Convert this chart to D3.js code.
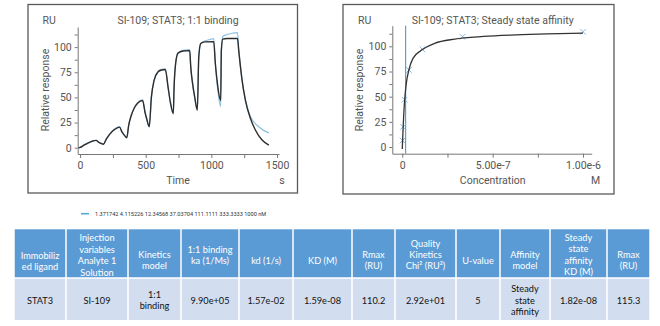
<!DOCTYPE html>
<html><head><meta charset="utf-8">
<script src="https://cdn.jsdelivr.net/npm/d3@7"></script>
<style>body{margin:0;background:#fff} svg{display:block}</style>
</head><body><svg id="c" width="660" height="326"></svg>
<script>
// ---------- DATA ----------
// Sensorgram: fitted curve (black)
const fitTime = [-12, 0, 30, 60, 90, 122, 140, 160, 178, 200, 230, 260, 300, 320, 340, 356, 370, 390, 414, 440, 476, 495, 510, 527, 543, 564, 594, 620, 649, 670, 688, 710, 716, 729, 746, 784, 835, 843, 858, 873, 893, 904, 919, 950, 1018, 1030, 1045, 1071, 1076, 1087, 1120, 1199, 1208, 1234, 1259, 1297, 1335, 1386, 1438];
const fitResp = [0, 0.3, 2.5, 4.6, 6.3, 7.3, 5.6, 4.3, 3.5, 8.5, 14, 17.8, 20.5, 15.5, 12, 10, 22, 32, 39.7, 44.5, 47, 35, 27.5, 21, 50, 67, 75.4, 77.3, 77.8, 60.5, 45, 34, 60, 85, 94, 96.2, 96.5, 80.4, 63, 50.6, 37.5, 90.3, 103.6, 105.2, 105.5, 84, 65, 47, 97, 108, 108.5, 108.6, 97, 67, 47.3, 29.2, 17.6, 7.6, 2.5];
// Sensorgram: measured response (blue)
const dataTime = [-12, 0, 30, 60, 90, 122, 140, 160, 178, 200, 230, 260, 300, 320, 340, 356, 370, 390, 414, 440, 476, 495, 510, 527, 543, 564, 594, 620, 649, 670, 688, 710, 716, 729, 746, 784, 835, 843, 858, 873, 893, 904, 919, 950, 985, 1018, 1030, 1045, 1071, 1076, 1087, 1120, 1160, 1199, 1208, 1234, 1259, 1285, 1310, 1361, 1400, 1438];
const dataResp = [0, 0.3, 2.8, 5, 6.5, 7.4, 5.6, 4.3, 3.4, 8.8, 14.5, 18.5, 21, 15.5, 11.8, 9.6, 22.5, 32.5, 40, 45, 47.5, 35, 27, 20.5, 50, 67.5, 76, 78, 78.5, 60, 44.5, 33.5, 60, 85, 94.5, 96.8, 97.5, 80, 62, 49.5, 37, 90, 103.5, 106, 107.5, 108.5, 84, 62, 41, 97, 110.5, 112.5, 113.8, 114.5, 98, 67, 47.5, 35, 28, 20.8, 17, 14.8];

// Steady state affinity
const concNM = [1.371742, 4.115226, 12.34568, 37.03704, 111.1111, 333.3333, 1000];
const ssResp = [6.5, 20, 47, 76.5, 97, 109.5, 114.5];
const ssCurveNM = [0, 1.4, 4, 8, 13, 22, 37, 59, 105, 179, 290, 450, 600, 800, 1000];
const ssCurveResp = [-2, 5, 16, 32, 46.5, 63, 77, 88, 96, 103, 107.2, 109.8, 111.2, 112.3, 113.2];
const kdNM = 18.2;

// Ticks
const sensoTicks = [0, 250, 500, 750, 1000, 1250, 1500];
const sensoTickLabels = ["0", "", "500", "", "1000", "", "1500"];
const respTicks = [0, 12.5, 25, 37.5, 50, 62.5, 75, 87.5, 100, 112.5];
const respTickLabels = ["0", "", "25", "", "50", "", "75", "", "100", ""];
const concTicks = [0, 2.5e-7, 5e-7, 7.5e-7, 1e-6];
const concTickLabels = ["0", "", "5.00e-7", "", "1.00e-6"];

const legendText = "1.371742 4.115226 12.34568 37.03704 111.1111 333.3333 1000 nM";

// Table
const tableHeaders = [
  ["Immobiliz", "ed ligand"],
  ["Injection", "variables", "Analyte 1", "Solution"],
  ["Kinetics", "model"],
  ["1:1 binding", "ka (1/Ms)"],
  ["kd (1/s)"],
  ["KD (M)"],
  ["Rmax", "(RU)"],
  ["Quality", "Kinetics", "Chi² (RU²)"],
  ["U-value"],
  ["Affinity", "model"],
  ["Steady", "state", "affinity", "KD (M)"],
  ["Rmax", "(RU)"]
];
const tableRow = [
  ["STAT3"], ["SI-109"], ["1:1", "binding"], ["9.90e+05"], ["1.57e-02"], ["1.59e-08"],
  ["110.2"], ["2.92e+01"], ["5"], ["Steady", "state", "affinity"], ["1.82e-08"], ["115.3"]
];

// ---------- DRAW ----------
const svg = d3.select("#c");
const FONT = "Roboto, 'Liberation Sans', Arial, sans-serif";
const TXT = "#555";

function panel(x0, y0, x1, y1) {
  svg.append("rect").attr("x", x0).attr("y", y0).attr("width", x1 - x0).attr("height", y1 - y0)
    .attr("fill", "#fff").attr("stroke", "#5a5a5a").attr("stroke-width", 1.3);
}
panel(28, 4.5, 297.5, 193);
panel(343, 4.5, 614, 194);

function styleAxis(g) {
  g.select(".domain").attr("stroke", "#777").attr("stroke-width", 1);
  g.selectAll(".tick line").attr("stroke", "#777");
  g.selectAll(".tick text").attr("fill", TXT).attr("font-size", 10.5).attr("font-family", FONT);
}

// ---- Left: sensorgram ----
const xL = d3.scaleLinear().domain([-18, 1515]).range([77.7, 279]);
const yL = d3.scaleLinear().domain([-6.25, 120]).range([154, 27]);

const gLy = svg.append("g").attr("transform", "translate(77.7,0)")
  .call(d3.axisLeft(yL).tickValues(respTicks).tickSize(3).tickSizeOuter(0).tickPadding(3)
    .tickFormat((d, i) => respTickLabels[i]));
styleAxis(gLy);
const gLx = svg.append("g").attr("transform", "translate(0,154)")
  .call(d3.axisBottom(xL).tickValues(sensoTicks).tickSize(4).tickSizeOuter(0).tickPadding(4)
    .tickFormat((d, i) => sensoTickLabels[i]));
styleAxis(gLx);

const lineL = d3.line().curve(d3.curveMonotoneX);
svg.append("path").attr("d", lineL(dataTime.map((t, i) => [xL(t), yL(dataResp[i])])))
  .attr("fill", "none").attr("stroke", "#8dbfe2").attr("stroke-width", 1.2);
svg.append("path").attr("d", lineL(fitTime.map((t, i) => [xL(t), yL(fitResp[i])])))
  .attr("fill", "none").attr("stroke", "#2d2d2d").attr("stroke-width", 1.4);

function label(x, y, s, opts = {}) {
  const t = svg.append("text").attr("x", x).attr("y", y).text(s)
    .attr("font-family", FONT).attr("font-size", opts.size || 10.5)
    .attr("fill", opts.fill || TXT).attr("text-anchor", opts.anchor || "middle");
  if (opts.rotate) t.attr("transform", `rotate(-90,${x},${y})`);
  return t;
}
label(42.5, 24, "RU", { anchor: "start" });
label(178, 24, "SI-109; STAT3; 1:1 binding");
label(178, 184, "Time");
label(282, 184, "s");
label(48.5, 90, "Relative response", { rotate: true });

// ---- Right: steady state affinity ----
const xR = d3.scaleLinear().domain([-0.0553e-6, 1.048e-6]).range([392.3, 591.7]);
const yR = d3.scaleLinear().domain([-6.65, 120.5]).range([153.7, 25.7]);

const gRy = svg.append("g").attr("transform", "translate(392.3,0)")
  .call(d3.axisLeft(yR).tickValues(respTicks).tickSize(3).tickSizeOuter(0).tickPadding(3)
    .tickFormat((d, i) => respTickLabels[i]));
styleAxis(gRy);
const gRx = svg.append("g").attr("transform", "translate(0,153.7)")
  .call(d3.axisBottom(xR).tickValues(concTicks).tickSize(4).tickSizeOuter(0).tickPadding(4)
    .tickFormat((d, i) => concTickLabels[i]));
styleAxis(gRx);

// KD vertical line
svg.append("line").attr("x1", xR(kdNM * 1e-9)).attr("x2", xR(kdNM * 1e-9))
  .attr("y1", yR(120.5)).attr("y2", yR(-6.65))
  .attr("stroke", "#4ea6d0").attr("stroke-width", 1.2);

// markers
const mk = svg.append("g");
concNM.forEach((c, i) => {
  const cx = xR(c * 1e-9), cy = yR(ssResp[i]), s = 2.8;
  mk.append("path").attr("d", `M${cx - s},${cy - s}L${cx + s},${cy + s}M${cx - s},${cy + s}L${cx + s},${cy - s}`)
    .attr("stroke", "#86bbe0").attr("stroke-width", 1).attr("fill", "none");
});

svg.append("path").attr("d", d3.line().curve(d3.curveMonotoneX)(ssCurveNM.map((c, i) => [xR(c * 1e-9), yR(ssCurveResp[i])])))
  .attr("fill", "none").attr("stroke", "#333").attr("stroke-width", 1.3);

label(358, 24, "RU", { anchor: "start" });
label(492.7, 24, "SI-109; STAT3; Steady state affinity");
label(492.7, 184, "Concentration");
label(595.7, 184, "M");
label(362.5, 90, "Relative response", { rotate: true });

// ---- Legend ----
svg.append("line").attr("x1", 81).attr("x2", 89).attr("y1", 213.7).attr("y2", 213.7)
  .attr("stroke", "#4ea6d0").attr("stroke-width", 1.5);
label(95, 215.6, legendText, { anchor: "start", size: 5.6, fill: "#333" });

// ---- Table ----
const colEdges = [14, 66, 128, 181, 239, 293, 352, 395, 456, 500, 550, 607, 650];
const hTop = 229.3, hBot = 278, rBot = 320;
const TFONT = "Lato, 'Open Sans', sans-serif";
const headLineY = [
  [256, 267], [237.7, 249.3, 260.7, 272.3], [255, 266], [249.5, 260.5], [261], [261],
  [255, 266], [243.3, 255, 266], [260.5], [255, 266], [237.7, 249, 260.3, 272], [255, 266]
];
const rowCenter = 300.5, lh = 11.3;
const tg = svg.append("g");
for (let i = 0; i < 12; i++) {
  const x0 = colEdges[i], x1 = colEdges[i + 1], cx = (x0 + x1) / 2;
  tg.append("rect").attr("x", x0 + 0.75).attr("y", hTop).attr("width", x1 - x0 - 1.5).attr("height", hBot - hTop - 0.75)
    .attr("fill", "#5b9bd5");
  tg.append("rect").attr("x", x0 + 0.75).attr("y", hBot + 0.75).attr("width", x1 - x0 - 1.5).attr("height", rBot - hBot - 0.75)
    .attr("fill", "#d2deef");
  tableHeaders[i].forEach((s, j) => {
    tg.append("text").attr("x", cx).attr("y", headLineY[i][j] + 3.2).text(s)
      .attr("font-family", TFONT).attr("font-size", 9.2).attr("fill", "#fff").attr("text-anchor", "middle");
  });
  const lines = tableRow[i];
  lines.forEach((s, j) => {
    const y = rowCenter + (j - (lines.length - 1) / 2) * lh + 3.2;
    tg.append("text").attr("x", cx).attr("y", y).text(s)
      .attr("font-family", TFONT).attr("font-size", 9.2).attr("fill", "#111").attr("text-anchor", "middle");
  });
}
</script>
</body></html>
